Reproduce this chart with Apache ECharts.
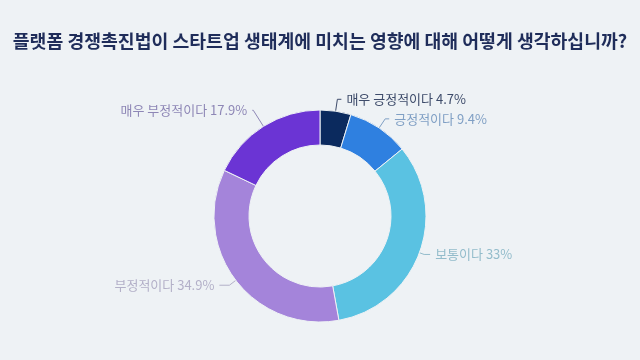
<!DOCTYPE html>
<html>
<head>
<meta charset="utf-8">
<script src="https://cdn.jsdelivr.net/npm/echarts@6/dist/echarts.min.js"></script>
<style>
  html, body { margin: 0; padding: 0; background: #eef2f5; }
  #chart { width: 640px; height: 360px; }
</style>
</head>
<body>
<div id="chart"></div>
<script>
"use strict";
// 응답 항목 / 비율(%)
const categories = ['매우 긍정적이다', '긍정적이다', '보통이다', '부정적이다', '매우 부정적이다'];
const values = [4.7, 9.4, 33, 34.9, 17.9];
const sliceColors = ['#0b2a5e', '#2f80e0', '#5ac2e2', '#a484da', '#6b34d4'];
const labelColors = ['#3d4b6a', '#7f9fc4', '#93bccb', '#b3b0c8', '#8e87b6'];
// 라벨 선 길이 (첫 구간, 둘째 구간)
const lineLen = [[12, 4], [11, 4], [5, 6], [8, 10], [19, 1]];

const chart = echarts.init(document.getElementById('chart'));

let pieData = categories.map(function (name, i) {
  return {
    name: name,
    value: values[i],
    itemStyle: { color: sliceColors[i] },
    label: { color: labelColors[i] },
    labelLine: {
      length: lineLen[i][0],
      length2: lineLen[i][1],
      lineStyle: { color: i === 0 ? '#3d4b6a' : labelColors[i] }
    }
  };
});

let option = {
  backgroundColor: '#eef2f5',
  title: {
    text: '플랫폼 경쟁촉진법이 스타트업 생태계에 미치는 영향에 대해 어떻게 생각하십니까?',
    left: 'center',
    top: 27,
    textStyle: {
      fontFamily: 'Noto Sans CJK KR',
      fontSize: 18.3,
      fontWeight: 'bold',
      color: '#1f2d5a'
    }
  },
  series: [{
    type: 'pie',
    center: [320, 216],
    radius: [71, 106],
    startAngle: 90,
    clockwise: true,
    avoidLabelOverlap: true,
    itemStyle: { borderColor: '#eef2f5', borderWidth: 1 },
    label: {
      show: true,
      fontFamily: 'Noto Sans CJK KR',
      fontSize: 13,
      formatter: function (p) { return p.name + ' ' + p.value + '%'; }
    },
    labelLine: { smooth: false, lineStyle: { width: 1 } },
    data: pieData
  }]
};
chart.setOption(option);
</script>
</body>
</html>
